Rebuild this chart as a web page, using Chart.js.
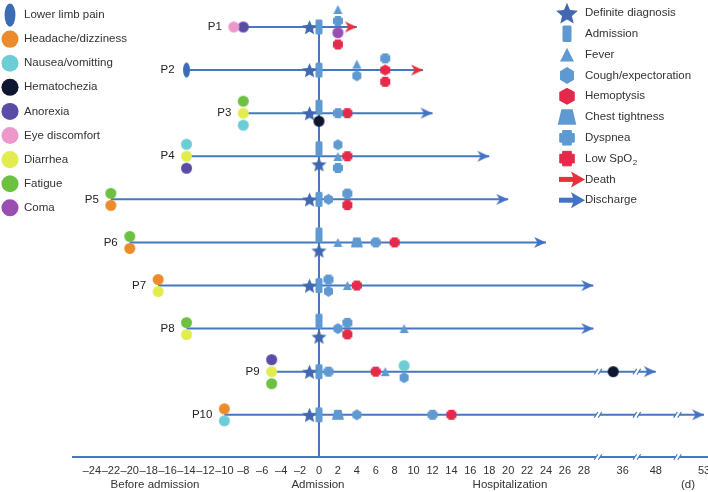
<!DOCTYPE html>
<html lang="en">
<head>
<meta charset="UTF-8">
<title>Patient timelines</title>
<script src="https://cdn.jsdelivr.net/npm/chart.js"></script>
<style>
  html, body { margin: 0; padding: 0; background: #fff; }
  #wrap { width: 708px; height: 492px; position: relative; }
</style>
</head>
<body>
<div id="wrap"><canvas id="timeline"></canvas></div>
<script>
// days relative to admission (day 0)
var patients = ['P1', 'P2', 'P3', 'P4', 'P5', 'P6', 'P7', 'P8', 'P9', 'P10'];
var endDays = [4, 11, 12, 18, 20, 24, 29, 29, 48, 53];
var outcomes = ['death', 'death', 'discharge', 'discharge', 'discharge', 'discharge', 'discharge', 'discharge', 'discharge', 'discharge'];

// [day, event] - events on the same day are stacked top to bottom in this order
var eventsP1 = [[-9, 'eye'], [-8, 'anorexia'], [-1, 'diagnosis'], [0, 'admission'], [2, 'fever'], [2, 'dyspnea'], [2, 'coma'], [2, 'spo2']];
var eventsP2 = [[-14, 'limb'], [-1, 'diagnosis'], [0, 'admission'], [4, 'fever'], [4, 'cough'], [7, 'dyspnea'], [7, 'hemoptysis'], [7, 'spo2']];
var eventsP3 = [[-8, 'fatigue'], [-8, 'diarrhea'], [-8, 'nausea'], [-1, 'diagnosis'], [0, 'admission'], [0, 'hematochezia'], [2, 'dyspnea'], [3, 'spo2']];
var eventsP4 = [[-14, 'nausea'], [-14, 'diarrhea'], [-14, 'anorexia'], [0, 'admission'], [0, 'diagnosis'], [2, 'cough'], [2, 'fever'], [2, 'dyspnea'], [3, 'spo2']];
var eventsP5 = [[-22, 'fatigue'], [-22, 'headache'], [-1, 'diagnosis'], [0, 'admission'], [1, 'cough'], [3, 'dyspnea'], [3, 'spo2']];
var eventsP6 = [[-20, 'fatigue'], [-20, 'headache'], [0, 'admission'], [0, 'diagnosis'], [2, 'fever'], [4, 'chest'], [6, 'dyspnea'], [8, 'spo2']];
var eventsP7 = [[-17, 'headache'], [-17, 'diarrhea'], [-1, 'diagnosis'], [0, 'admission'], [1, 'dyspnea'], [1, 'cough'], [3, 'fever'], [4, 'spo2']];
var eventsP8 = [[-14, 'fatigue'], [-14, 'diarrhea'], [0, 'admission'], [0, 'diagnosis'], [2, 'cough'], [3, 'dyspnea'], [3, 'spo2'], [9, 'fever']];
var eventsP9 = [[-5, 'anorexia'], [-5, 'diarrhea'], [-5, 'fatigue'], [-1, 'diagnosis'], [0, 'admission'], [1, 'dyspnea'], [6, 'spo2'], [7, 'fever'], [9, 'nausea'], [9, 'cough'], [35, 'hematochezia']];
var eventsP10 = [[-10, 'headache'], [-10, 'nausea'], [-1, 'diagnosis'], [0, 'admission'], [2, 'chest'], [4, 'cough'], [12, 'dyspnea'], [14, 'spo2']];
var patientEvents = [eventsP1, eventsP2, eventsP3, eventsP4, eventsP5, eventsP6, eventsP7, eventsP8, eventsP9, eventsP10];

var tickDays = [-24, -22, -20, -18, -16, -14, -12, -10, -8, -6, -4, -2, 0, 2, 4, 6, 8, 10, 12, 14, 16, 18, 20, 22, 24, 26, 28, 36, 48, 53];

var symptomKeys = ['limb', 'headache', 'nausea', 'hematochezia', 'anorexia', 'eye', 'diarrhea', 'fatigue', 'coma'];
var symptomNames = ['Lower limb pain', 'Headache/dizziness', 'Nausea/vomitting', 'Hematochezia', 'Anorexia', 'Eye discomfort', 'Diarrhea', 'Fatigue', 'Coma'];
var eventKeys = ['diagnosis', 'admission', 'fever', 'cough', 'hemoptysis', 'chest', 'dyspnea', 'spo2', 'death', 'discharge'];
var eventNames = ['Definite diagnosis', 'Admission', 'Fever', 'Cough/expectoration', 'Hemoptysis', 'Chest tightness', 'Dyspnea', 'Low SpO2', 'Death', 'Discharge'];

// ---- look ----
var FONT = '"Liberation Sans", Arial, sans-serif';
var TEXT = '#333';
var LINE = '#4677bf';
var LIGHT = '#5f99d1';
var RED = '#e5294a';
var DEATH = '#e8303a';
var DISCHARGE = '#4472c4';
var ROW_PX = 43.09;

var look = {
  limb: ['ellipse', '#3b6cb4', 7, 15],
  headache: ['ellipse', '#eb8b2b', 11, 11],
  nausea: ['ellipse', '#6ccdd7', 11, 11],
  hematochezia: ['ellipse', '#0e1632', 11, 11],
  anorexia: ['ellipse', '#5a4ba7', 11, 11],
  eye: ['ellipse', '#ed98ca', 11, 11],
  diarrhea: ['ellipse', '#e3ec4e', 11, 11],
  fatigue: ['ellipse', '#6dc141', 11, 11],
  coma: ['ellipse', '#9a4eb1', 11, 11],
  diagnosis: ['star', '#4168b0', 15, 14],
  admission: ['rect', LIGHT, 7, 15],
  fever: ['tri', LIGHT, 9, 9],
  cough: ['hex', LIGHT, 9, 11],
  hemoptysis: ['hex', RED, 10, 11],
  chest: ['trap', LIGHT, 12, 10],
  dyspnea: ['cross', LIGHT, 10, 10],
  spo2: ['cross', RED, 10, 10]
};

// broken time axis: days -> position on the drawn axis
function disp(d) {
  if (d <= 29.5) return d;
  if (d < 46) return d - 3.9;
  if (d < 50.25) return d - 12.4;
  return d - 12.3;
}
var breakAt = [29.5, 33.6, 37.9];

function drawShape(g, shape, color, cx, cy, w, h) {
  var i, pts = null;
  g.save();
  g.fillStyle = color;
  g.beginPath();
  if (shape === 'ellipse') {
    g.ellipse(cx, cy, w / 2, h / 2, 0, 0, Math.PI * 2);
  } else if (shape === 'star') {
    var R = w / 1.902, r = R * 0.45;
    var top = cy - (h / 2);
    for (i = 0; i < 10; i++) {
      var a = -Math.PI / 2 + i * Math.PI / 5;
      var rr = i % 2 ? r : R;
      var px = cx + rr * Math.cos(a), py = top + R + rr * Math.sin(a);
      if (i === 0) g.moveTo(px, py); else g.lineTo(px, py);
    }
  } else if (shape === 'rect') {
    g.roundRect(cx - w / 2, cy - h / 2, w, h, 1.5);
  } else if (shape === 'tri') {
    pts = [[0, -h / 2], [w / 2, h / 2], [-w / 2, h / 2]];
  } else if (shape === 'hex') {
    pts = [[0, -h / 2], [w / 2, -h / 4], [w / 2, h / 4], [0, h / 2], [-w / 2, h / 4], [-w / 2, -h / 4]];
  } else if (shape === 'trap') {
    pts = [[-w * 0.3, -h / 2], [w * 0.3, -h / 2], [w / 2, h / 2], [-w / 2, h / 2]];
  } else if (shape === 'cross') {
    var t = w * 0.28, hw = w / 2 - 0.5, hh = h / 2 - 0.5;
    pts = [[-t, -hh], [t, -hh], [t, -t], [hw, -t], [hw, t], [t, t], [t, hh], [-t, hh], [-t, t], [-hw, t], [-hw, -t], [-t, -t]];
  }
  if (pts) {
    pts.forEach(function (p, k) {
      if (k === 0) g.moveTo(cx + p[0], cy + p[1]); else g.lineTo(cx + p[0], cy + p[1]);
    });
  }
  g.closePath();
  g.fill();
  if (shape === 'cross') {
    g.strokeStyle = color; g.lineWidth = 1; g.lineJoin = 'round'; g.stroke();
  }
  g.restore();
}

function arrowHead(g, color, tipX, cy, len, half, notch) {
  g.save();
  g.fillStyle = color;
  g.beginPath();
  g.moveTo(tipX, cy);
  g.lineTo(tipX - len, cy - half);
  g.lineTo(tipX - len + notch, cy);
  g.lineTo(tipX - len, cy + half);
  g.closePath();
  g.fill();
  g.restore();
}

function iconFor(key) {
  var s = look[key];
  var c = document.createElement('canvas');
  c.width = Math.ceil(s[2]) + 2;
  c.height = Math.ceil(s[3]) + 2;
  drawShape(c.getContext('2d'), s[0], s[1], c.width / 2, c.height / 2, s[2], s[3]);
  return c;
}

// arrow head whose tip sits at the centre of the canvas
function arrowIcon(color) {
  var c = document.createElement('canvas');
  c.width = 28; c.height = 13;
  arrowHead(c.getContext('2d'), color, 14, 6.5, 12, 5.5, 3.5);
  return c;
}

function slot(key) { return Math.max(look[key][3] + 1, 11.5); }

// ---- datasets ----
var markSets = {};
patientEvents.forEach(function (list, i) {
  var row = i + 1;
  var byDay = {};
  var order = [];
  list.forEach(function (ev) {
    if (!byDay[ev[0]]) { byDay[ev[0]] = []; order.push(ev[0]); }
    byDay[ev[0]].push(ev[1]);
  });
  order.forEach(function (day) {
    var keys = byDay[day];
    var total = keys.reduce(function (s, k) { return s + slot(k); }, 0);
    var cur = -total / 2;
    keys.forEach(function (k) {
      var off = cur + slot(k) / 2;
      cur += slot(k);
      (markSets[k] = markSets[k] || []).push({ x: disp(day), y: row + off / ROW_PX });
    });
  });
});

var datasets = [];
['death', 'discharge'].forEach(function (kind) {
  var pts = [];
  patients.forEach(function (p, i) {
    if (outcomes[i] === kind) pts.push({ x: disp(endDays[i]), y: i + 1 });
  });
  datasets.push({
    label: kind, data: pts, pointStyle: arrowIcon(kind === 'death' ? DEATH : DISCHARGE),
    pointRadius: 6, clip: false
  });
});
Object.keys(markSets).forEach(function (k) {
  datasets.push({ label: k, data: markSets[k], pointStyle: iconFor(k), pointRadius: 6, clip: false });
});
patients.forEach(function (p, i) {
  var onset = Math.min.apply(null, patientEvents[i].map(function (e) { return e[0]; }));
  datasets.push({
    label: p, data: [{ x: disp(onset), y: i + 1 }, { x: disp(endDays[i]), y: i + 1 }],
    showLine: true, borderColor: LINE, borderWidth: 2, pointRadius: 0, clip: false
  });
});
datasets.push({
  label: 'admission line', data: [{ x: 0, y: 1 }, { x: 0, y: 10.98 }],
  showLine: true, borderColor: LINE, borderWidth: 2, pointRadius: 0, clip: false
});

function breakMark(ctx, x, y) {
  ctx.save();
  ctx.fillStyle = '#fff';
  ctx.fillRect(x - 2, y - 1.5, 4, 3);
  ctx.strokeStyle = LINE;
  ctx.lineWidth = 1.2;
  [-2, 2].forEach(function (dx) {
    ctx.beginPath();
    ctx.moveTo(x + dx - 1.8, y + 2.8);
    ctx.lineTo(x + dx + 1.8, y - 2.8);
    ctx.stroke();
  });
  ctx.restore();
}

var decor = {
  id: 'decor',
  afterDatasetsDraw: function (chart) {
    var ctx = chart.ctx, xs = chart.scales.x, ys = chart.scales.y;
    breakAt.forEach(function (b) { breakMark(ctx, xs.getPixelForValue(b), chart.chartArea.bottom); });
    patients.forEach(function (p, i) {
      var end = disp(endDays[i]);
      breakAt.forEach(function (b) {
        if (b < end - 1) breakMark(ctx, xs.getPixelForValue(b), ys.getPixelForValue(i + 1));
      });
    });
  },
  afterDraw: function (chart) {
    var ctx = chart.ctx, xs = chart.scales.x, ys = chart.scales.y;
    ctx.save();
    ctx.font = '11.5px ' + FONT;
    ctx.textBaseline = 'middle';

    // patient labels
    ctx.fillStyle = '#222';
    ctx.textAlign = 'right';
    patients.forEach(function (p, i) {
      var onset = Math.min.apply(null, patientEvents[i].map(function (e) { return e[0]; }));
      ctx.fillText(p, xs.getPixelForValue(disp(onset)) - 12, ys.getPixelForValue(i + 1));
    });

    // left legend: symptoms before admission
    ctx.fillStyle = TEXT;
    ctx.textAlign = 'left';
    symptomKeys.forEach(function (k, i) {
      var y = 15 + i * 24.1, s = look[k];
      drawShape(ctx, s[0], s[1], 10, y, s[2] * 1.55, s[3] * 1.55);
      ctx.fillStyle = TEXT;
      ctx.fillText(symptomNames[i], 24, y);
    });

    // right legend: events
    eventKeys.forEach(function (k, i) {
      var y = 13 + i * 20.8;
      if (k === 'death' || k === 'discharge') {
        var col = k === 'death' ? DEATH : DISCHARGE;
        ctx.fillStyle = col;
        ctx.fillRect(559, y - 2.5, 15, 5);
        arrowHead(ctx, col, 585, y, 14, 8, 3);
      } else {
        var s = look[k];
        var f = k === 'diagnosis' ? 1.45 : (k === 'admission' ? 1.1 : 1.55);
        var w = k === 'admission' ? 9 : s[2] * f;
        drawShape(ctx, s[0], s[1], 567, y, w, s[3] * f);
      }
      ctx.fillStyle = TEXT;
      var name = eventNames[i];
      if (k === 'spo2') {
        var base = name.slice(0, -1);
        ctx.fillText(base, 585, y);
        var wb = ctx.measureText(base).width;
        ctx.font = '8px ' + FONT;
        ctx.fillText(name.slice(-1), 585 + wb + 0.5, y + 4);
        ctx.font = '11.5px ' + FONT;
      } else {
        ctx.fillText(name, 585, y);
      }
    });

    // axis captions
    ctx.textAlign = 'center';
    ctx.fillStyle = TEXT;
    var cy = chart.chartArea.bottom + 28;
    ctx.fillText('Before admission', 155, cy);
    ctx.fillText('Admission', xs.getPixelForValue(0) - 1, cy);
    ctx.fillText('Hospitalization', 510, cy);
    ctx.fillText('(d)', 688, cy);
    ctx.restore();
  }
};

Chart.defaults.font.family = FONT;

new Chart(document.getElementById('timeline'), {
  type: 'scatter',
  data: { datasets: datasets },
  plugins: [decor],
  options: {
    responsive: true,
    maintainAspectRatio: false,
    animation: false,
    events: [],
    layout: { autoPadding: false, padding: { left: 73, right: 0, top: 0, bottom: 0 } },
    plugins: { legend: { display: false }, tooltip: { enabled: false } },
    scales: {
      x: {
        type: 'linear',
        min: -26.0,
        max: 41.12,
        afterBuildTicks: function (scale) {
          scale.ticks = tickDays.map(function (d) { return { value: disp(d) }; });
        },
        afterFit: function (scale) {
          scale.height = 35;
          scale.paddingLeft = 0;
          scale.paddingRight = 0;
        },
        grid: { display: false, drawTicks: false },
        border: { display: true, color: LINE, width: 2 },
        ticks: {
          autoSkip: false,
          maxRotation: 0,
          minRotation: 0,
          padding: 7,
          color: TEXT,
          font: { size: 11, family: FONT },
          callback: function (value, index) {
            var d = tickDays[index];
            return d < 0 ? '\u2013' + Math.abs(d) : String(d);
          }
        }
      },
      y: {
        display: false,
        reverse: true,
        min: 0.374,
        max: 10.98
      }
    }
  }
});
</script>
</body>
</html>
